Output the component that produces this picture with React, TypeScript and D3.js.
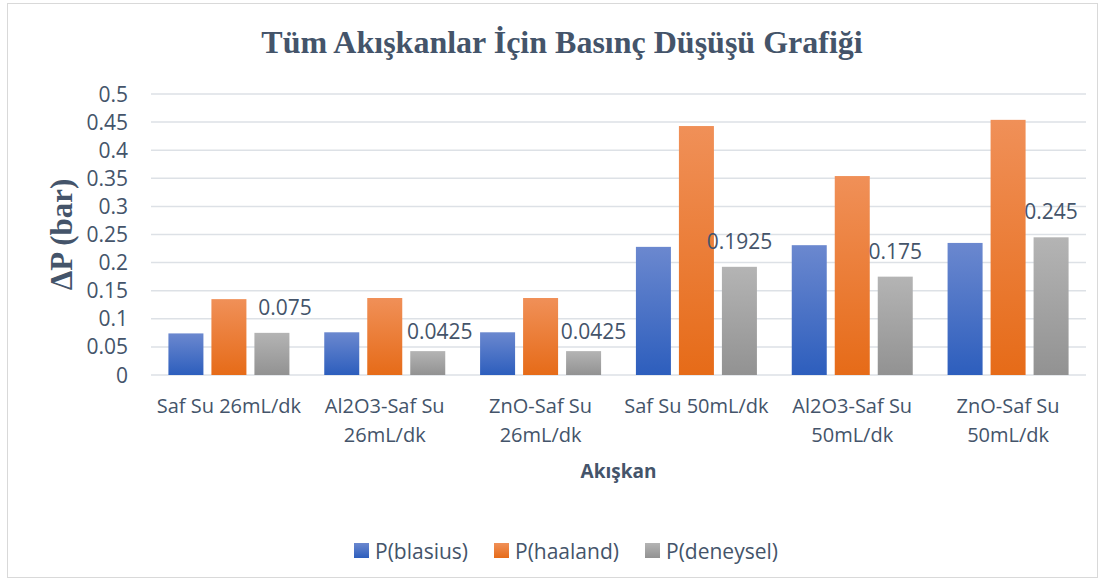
import * as d3 from "d3";

const categories = [
  ["Saf Su 26mL/dk"],
  ["Al2O3-Saf Su", "26mL/dk"],
  ["ZnO-Saf Su", "26mL/dk"],
  ["Saf Su 50mL/dk"],
  ["Al2O3-Saf Su", "50mL/dk"],
  ["ZnO-Saf Su", "50mL/dk"],
];
const blasius = [0.074, 0.076, 0.076, 0.228, 0.231, 0.235];
const haaland = [0.135, 0.137, 0.137, 0.443, 0.354, 0.454];
const deneysel = [0.075, 0.0425, 0.0425, 0.1925, 0.175, 0.245];
const deneyselLabels = ["0.075", "0.0425", "0.0425", "0.1925", "0.175", "0.245"];
const yTicks = [0, 0.05, 0.1, 0.15, 0.2, 0.25, 0.3, 0.35, 0.4, 0.45, 0.5];
const seriesNames = ["P(blasius)", "P(haaland)", "P(deneysel)"];

// label nudges (px) to mimic the hand-placed Excel data labels
const labelDx = [13, 12, 10, 0, 0];

const W = 1105;
const H = 581;
const TEXT = "#44546A";
const SANS = "'Open Sans', 'Noto Sans', sans-serif";
const SERIF = "'Liberation Serif', 'Times New Roman', serif";

const grads = [
  { id: "gBlue", top: "#6b88cf", bottom: "#2d5ebd" },
  { id: "gOrange", top: "#f09058", bottom: "#e66b18" },
  { id: "gGray", top: "#b4b4b4", bottom: "#929292" },
];

export default function App() {
  const x0 = d3
    .scaleBand<number>()
    .domain(d3.range(categories.length))
    .range([151, 1086]);
  const x1 = d3
    .scaleBand<number>()
    .domain([0, 1, 2])
    .range([0, 121])
    .paddingInner(0.186);
  const groupPad = (x0.bandwidth() - 121) / 2;
  const y = d3.scaleLinear().domain([0, 0.5]).range([375, 94]);

  const series = [blasius, haaland, deneysel];
  const mid = (ci: number) => (x0(ci) ?? 0) + x0.bandwidth() / 2;

  return (
    <div style={{ position: "absolute", left: 0, top: 0 }}>
      <svg width={W} height={H} style={{ display: "block", background: "#fff" }}>
        <defs>
          {grads.map((g) => (
            <linearGradient key={g.id} id={g.id} x1="0" y1="0" x2="0" y2="1">
              <stop offset="0%" stopColor={g.top} />
              <stop offset="100%" stopColor={g.bottom} />
            </linearGradient>
          ))}
        </defs>
        <rect x={7.5} y={3.5} width={1090} height={574} fill="#fff" stroke="#d9d9d9" />

        <text
          x={562}
          y={53}
          textAnchor="middle"
          fontFamily={SERIF}
          fontWeight="bold"
          fontSize={32}
          fill={TEXT}
        >
          Tüm Akışkanlar İçin Basınç Düşüşü Grafiği
        </text>

        {yTicks.map((t) => (
          <g key={t}>
            <line
              x1={151}
              x2={1086}
              y1={y(t)}
              y2={y(t)}
              stroke="#dde1e6"
              strokeWidth={1.5}
            />
            <text
              x={128}
              y={y(t)}
              dy="0.36em"
              textAnchor="end"
              fontFamily={SANS}
              fontSize={21}
              fill={TEXT}
            >
              {d3.format("")(t)}
            </text>
          </g>
        ))}

        <text
          transform={`translate(72,${(y(0) + y(0.5)) / 2}) rotate(-90)`}
          textAnchor="middle"
          fontFamily={SERIF}
          fontWeight="bold"
          fontSize={31}
          fill={TEXT}
        >
          ΔP (bar)
        </text>

        {series.map((vals, si) =>
          vals.map((v, ci) => (
            <rect
              key={`${si}-${ci}`}
              x={(x0(ci) ?? 0) + groupPad + (x1(si) ?? 0)}
              y={y(v)}
              width={x1.bandwidth()}
              height={y(0) - y(v)}
              fill={`url(#${grads[si].id})`}
            />
          ))
        )}

        {deneysel.map((v, ci) => (
          <text
            key={ci}
            x={(x0(ci) ?? 0) + groupPad + (x1(2) ?? 0) + x1.bandwidth() / 2 + (labelDx[ci] ?? 0)}
            y={y(v) - (ci === 1 || ci === 2 ? 12 : 18)}
            textAnchor="middle"
            fontFamily={SANS}
            fontSize={21}
            fill={TEXT}
          >
            {deneyselLabels[ci]}
          </text>
        ))}

        {categories.map((lines, ci) => (
          <text
            key={ci}
            x={mid(ci)}
            y={413}
            textAnchor="middle"
            fontFamily={SANS}
            fontSize={20}
            fill={TEXT}
          >
            {lines.map((l, li) => (
              <tspan key={li} x={mid(ci)} dy={li === 0 ? 0 : 29}>
                {l}
              </tspan>
            ))}
          </text>
        ))}

        <text
          x={(151 + 1086) / 2}
          y={478}
          textAnchor="middle"
          fontFamily={SANS}
          fontWeight="bold"
          fontSize={19}
          fill={TEXT}
        >
          Akışkan
        </text>

        {seriesNames.map((name, i) => {
          const lx = [354, 494, 645][i];
          return (
            <g key={name}>
              <rect x={lx} y={543} width={15} height={15} fill={`url(#${grads[i].id})`} />
              <text
                x={lx + 21}
                y={551}
                dy="0.36em"
                fontFamily={SANS}
                fontSize={21}
                fill={TEXT}
              >
                {name}
              </text>
            </g>
          );
        })}
      </svg>
    </div>
  );
}
